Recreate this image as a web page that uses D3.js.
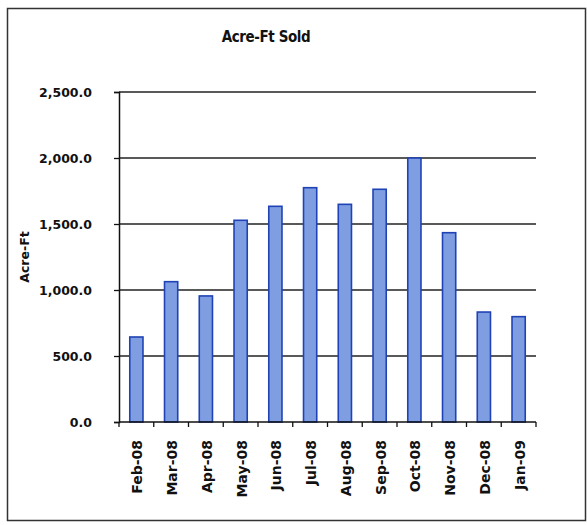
<!DOCTYPE html>
<html>
<head>
<meta charset="utf-8">
<script src="https://cdn.jsdelivr.net/npm/d3@7"></script>
<style>
  body { margin: 0; background: #fff; }
  text { font-family: "DejaVu Sans", sans-serif; font-weight: bold; fill: #111; }
</style>
</head>
<body>
<svg id="chart" width="587" height="525"></svg>
<script>
// chart data
var months = ["Feb-08", "Mar-08", "Apr-08", "May-08", "Jun-08", "Jul-08",
              "Aug-08", "Sep-08", "Oct-08", "Nov-08", "Dec-08", "Jan-09"];
var acreFt = [644, 1063, 955, 1528, 1634, 1775, 1649, 1763, 2000, 1434, 833, 798];
var yTicks = [0, 500, 1000, 1500, 2000, 2500];

var svg = d3.select("#chart");
var margin = { left: 119, right: 51, top: 92, bottom: 103 };
var width = 587 - margin.left - margin.right;
var height = 525 - margin.top - margin.bottom;

// outer frame
svg.append("rect")
    .attr("x", 7.5).attr("y", 8.5)
    .attr("width", 578).attr("height", 512)
    .attr("fill", "none")
    .attr("stroke", "#333")
    .attr("stroke-width", 1.5);

svg.append("text")
    .attr("x", 266).attr("y", 42)
    .attr("text-anchor", "middle")
    .style("font-family", "'DejaVu Sans Condensed', sans-serif")
    .style("font-size", "15px")
    .style("letter-spacing", "-0.4px")
    .text("Acre-Ft Sold");

var g = svg.append("g")
    .attr("transform", "translate(" + margin.left + "," + margin.top + ")");

var x = d3.scaleBand().domain(months).range([0, width]).paddingInner(0.62).paddingOuter(0.31);
var y = d3.scaleLinear().domain([0, 2500]).range([height, 0]);

// gridlines
g.selectAll(".grid")
    .data(yTicks.slice(1))
    .enter().append("line")
    .attr("x1", 0).attr("x2", width)
    .attr("y1", function (d) { return y(d); })
    .attr("y2", function (d) { return y(d); })
    .attr("stroke", "#222")
    .attr("stroke-width", 1.3);

// y axis
var yAxis = g.append("g")
    .call(d3.axisLeft(y).tickValues(yTicks).tickSize(5).tickFormat(d3.format(",.1f")));
yAxis.select(".domain").attr("stroke", "#111").attr("stroke-width", 1.5);
yAxis.selectAll(".tick line").attr("stroke", "#111").attr("stroke-width", 1.3);
yAxis.selectAll("text")
    .attr("x", -27)
    .style("font-size", "12.5px")
    .style("font-family", "'DejaVu Sans', sans-serif")
    .style("font-weight", "bold")
    .attr("fill", "#111");

// bars
g.selectAll(".bar")
    .data(acreFt)
    .enter().append("rect")
    .attr("class", "bar")
    .attr("x", function (d, i) { return x(months[i]); })
    .attr("y", function (d) { return y(d); })
    .attr("width", x.bandwidth())
    .attr("height", function (d) { return height - y(d); })
    .attr("fill", "#7f9ee2")
    .attr("stroke", "#1f43b4")
    .attr("stroke-width", 1.6);

// x axis with ticks at band edges
var xAxisG = g.append("g").attr("transform", "translate(0," + height + ")");
xAxisG.append("line")
    .attr("x1", 0).attr("x2", width)
    .attr("stroke", "#111").attr("stroke-width", 1.5);
var step = x.step();
var edges = d3.range(months.length + 1).map(function (i) { return i * step; });
xAxisG.selectAll(".xt")
    .data(edges)
    .enter().append("line")
    .attr("x1", function (d) { return d; })
    .attr("x2", function (d) { return d; })
    .attr("y1", 0).attr("y2", 5)
    .attr("stroke", "#111").attr("stroke-width", 1.3);
xAxisG.selectAll(".xl")
    .data(months)
    .enter().append("text")
    .attr("transform", function (d) {
        return "translate(" + (x(d) + x.bandwidth() / 2 + 6) + ",18) rotate(-90)";
    })
    .attr("text-anchor", "end")
    .style("font-size", "14px")
    .text(function (d) { return d; });

// y axis title
svg.append("text")
    .attr("transform", "translate(29,257) rotate(-90)")
    .attr("text-anchor", "middle")
    .style("font-size", "12.5px")
    .text("Acre-Ft");
</script>
</body>
</html>
